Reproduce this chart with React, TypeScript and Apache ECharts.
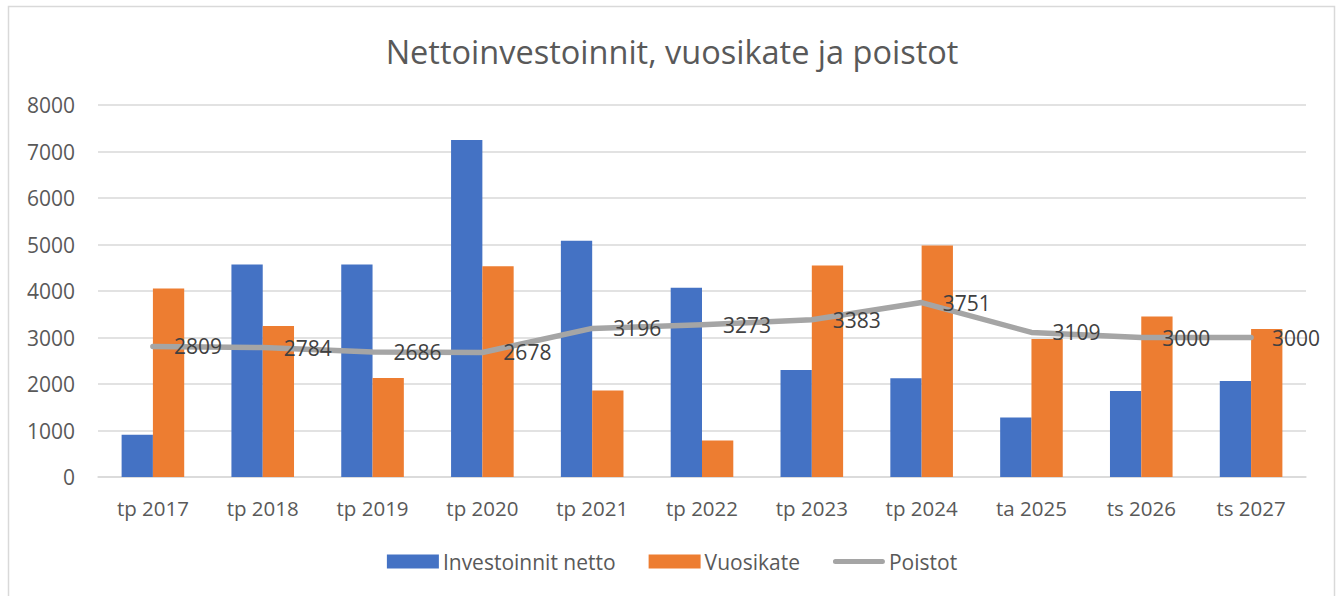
import React, { useEffect, useRef } from "react";
import * as echarts from "echarts";

const categories = ["tp 2017", "tp 2018", "tp 2019", "tp 2020", "tp 2021", "tp 2022", "tp 2023", "tp 2024", "ta 2025", "ts 2026", "ts 2027"];
const investoinnitNetto = [910, 4570, 4570, 7245, 5080, 4070, 2300, 2125, 1280, 1850, 2065];
const vuosikate = [4055, 3245, 2130, 4530, 1860, 785, 4550, 4980, 2970, 3450, 3185];
const poistot = [2809, 2784, 2686, 2678, 3196, 3273, 3383, 3751, 3109, 3000, 3000];
const yTicks = { min: 0, max: 8000, interval: 1000 };

const FONT = "'Open Sans', 'Noto Sans', sans-serif";
const LINE_ICON =
  "path://M0,0 M52,14 M2.5,4.5 L49.5,4.5 A2.5,2.5 0 0 1 49.5,9.5 L2.5,9.5 A2.5,2.5 0 0 1 2.5,4.5 Z";

export default function App() {
  const ref = useRef<HTMLDivElement>(null);
  useEffect(() => {
    if (!ref.current) return;
    const chart = echarts.init(ref.current, null, { renderer: "svg" });
    chart.setOption({
      animation: false,
      backgroundColor: "#ffffff",
      textStyle: { fontFamily: FONT },
      title: {
        text: "Nettoinvestoinnit, vuosikate ja poistot",
        left: "center",
        top: 30,
        textStyle: { fontFamily: FONT, fontSize: 32.5, fontWeight: "normal", color: "#595959" },
      },
      graphic: [
        {
          type: "rect",
          shape: { x: 8.5, y: 6.5, width: 1326, height: 620 },
          style: { fill: "none", stroke: "#d9d9d9", lineWidth: 1.5 },
          silent: true,
        },
      ],
      grid: { left: 98, right: 38, top: 105, bottom: 119, containLabel: false },
      legend: {
        bottom: 19,
        left: "center",
        itemWidth: 52,
        itemHeight: 14,
        itemGap: 33,
        textStyle: { fontFamily: FONT, fontSize: 21, color: "#595959", padding: [0, 0, 0, -1] },
        data: [
          { name: "Investoinnit netto", icon: "rect" },
          { name: "Vuosikate", icon: "rect" },
          { name: "Poistot", icon: LINE_ICON },
        ],
      },
      xAxis: {
        type: "category",
        data: categories,
        axisLine: { show: true, lineStyle: { color: "#d9d9d9", width: 1.5 } },
        axisTick: { show: false },
        axisLabel: { fontFamily: FONT, fontSize: 20.5, color: "#595959", margin: 20 },
      },
      yAxis: {
        type: "value",
        min: yTicks.min,
        max: yTicks.max,
        interval: yTicks.interval,
        axisLine: { show: false },
        axisTick: { show: false },
        axisLabel: {
          fontFamily: FONT,
          fontSize: 21,
          color: "#595959",
          margin: 23,
          formatter: (v: number) => String(v),
        },
        splitLine: { lineStyle: { color: "#d9d9d9", width: 1.5 } },
      },
      series: [
        {
          name: "Investoinnit netto",
          type: "bar",
          data: investoinnitNetto,
          barGap: "0%",
          barCategoryGap: "43%",
          itemStyle: { color: "#4472c4" },
        },
        {
          name: "Vuosikate",
          type: "bar",
          data: vuosikate,
          barGap: "0%",
          barCategoryGap: "43%",
          itemStyle: { color: "#ed7d31" },
        },
        {
          name: "Poistot",
          type: "line",
          data: poistot,
          symbol: "circle",
          symbolSize: 2,
          showSymbol: true,
          itemStyle: { color: "#a5a5a5" },
          lineStyle: { color: "#a5a5a5", width: 5.5, cap: "round", join: "round" },
          label: {
            show: true,
            position: "right",
            distance: 20,
            fontFamily: FONT,
            fontSize: 21,
            color: "#404040",
          },
          z: 3,
        },
      ],
    });
    return () => chart.dispose();
  }, []);
  return (
    <div
      ref={ref}
      style={{ position: "fixed", left: 0, top: 0, width: 1344, height: 596 }}
    />
  );
}
